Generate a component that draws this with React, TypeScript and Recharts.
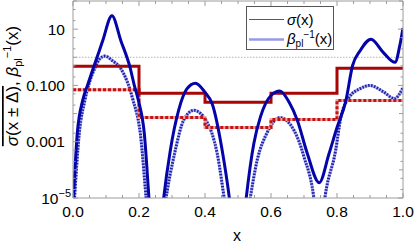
import React from "react";
import { LineChart, Line, XAxis, YAxis, ReferenceLine } from "recharts";

const W = 415;
const H = 247;
const FONT = '"Liberation Sans", Arial, sans-serif';
const FRAME = "#9c9c9c";

// sigma(x) local curve (solid blue)
const sigmaX = [0, 0.013, 0.0295, 0.045, 0.062, 0.075, 0.09, 0.118, 0.145, 0.173, 0.185, 0.198, 0.216, 0.232, 0.252, 0.272, 0.295, 0.32, 0.345, 0.371, 0.4, 0.422, 0.452, 0.477, 0.5, 0.522, 0.548, 0.568, 0.6, 0.627, 0.655, 0.68, 0.71, 0.746, 0.776, 0.8, 0.827, 0.847, 0.87, 0.903, 0.94, 0.976, 0.99, 1.0];
const sigmaY = [5e-6, 0.002, 0.03, 0.11, 0.43, 1.17, 3.9, 30, 3.9, 0.43, 0.11, 0.03, 0.002, 5e-6, 1e-8, 5e-6, 5e-4, 0.013, 0.075, 0.12, 0.057, 0.022, 5e-4, 5e-6, 1e-8, 5e-6, 8.7e-4, 0.0076, 0.044, 0.063, 0.025, 0.0057, 3.8e-4, 3.5e-5, 3.8e-4, 0.0032, 0.029, 0.5, 1.7, 4.4, 1.5, 0.66, 2.5, 11];

// beta_pl^-1(x) (dotted blue)
const betaX = [0.003, 0.019, 0.036, 0.05, 0.067, 0.08, 0.097, 0.12, 0.143, 0.165, 0.182, 0.204, 0.224, 0.25, 0.278, 0.31, 0.335, 0.366, 0.406, 0.437, 0.462, 0.5, 0.533, 0.558, 0.589, 0.627, 0.67, 0.7, 0.733, 0.746, 0.76, 0.796, 0.812, 0.837, 0.87, 0.9, 0.94, 0.974, 1.0];
const betaY = [5e-6, 0.002, 0.03, 0.13, 0.43, 0.85, 1.1, 0.75, 0.43, 0.13, 0.03, 0.002, 5e-6, 1e-8, 5e-6, 5e-4, 0.0057, 0.013, 0.005, 3.8e-4, 5e-6, 1e-8, 5e-6, 2.2e-4, 0.0022, 0.0072, 0.0025, 2.9e-4, 5e-6, 1e-7, 5e-6, 5e-4, 0.0076, 0.038, 0.077, 0.1, 0.06, 0.034, 0.083];

// bin averages over [x - Δ, x + Δ] (steps)
const binEdges = [0, 0.2, 0.4, 0.6, 0.8, 1.0];
const binSigma = [0.48, 0.053, 0.025, 0.053, 0.41, 0.41];
const binBeta = [0.07, 0.0072, 0.0032, 0.0061, 0.029, 0.029];

const unitLevel = 1;

const xTicks = [0, 0.05, 0.1, 0.15, 0.2, 0.25, 0.3, 0.35, 0.4, 0.45, 0.5, 0.55, 0.6, 0.65, 0.7, 0.75, 0.8, 0.85, 0.9, 0.95, 1];
const xLabels = ["0.0", "0.2", "0.4", "0.6", "0.8", "1.0"];
const yTicks = [1e-5, 2e-5, 5e-5, 1e-4, 2e-4, 5e-4, 1e-3, 2e-3, 5e-3, 0.01, 0.02, 0.05, 0.1, 0.2, 0.5, 1, 2, 5, 10, 20, 50, 100];
const yLabelVals = [1e-5, 0.001, 0.1, 10];
const yLabels = ["10", "0.001", "0.100", "10"];

const sigmaData = sigmaX.map((x, i) => ({ x, y: sigmaY[i] }));
const betaData = betaX.map((x, i) => ({ x, y: betaY[i] }));
const binSigmaData = binEdges.map((x, i) => ({ x, y: binSigma[i] }));
const binBetaData = binEdges.map((x, i) => ({ x, y: binBeta[i] }));

const near = (a: number, b: number) => Math.abs(a - b) < 1e-9 * Math.max(1, Math.abs(b));
const xLabelOf = (v: number) => {
  const k = Math.round(v * 5);
  return near(v, k / 5) ? xLabels[k] : null;
};
const isDecade = (v: number) => near(Math.log10(v), Math.round(Math.log10(v)));

const BottomTick = (p: any) => {
  const { x, y, payload } = p;
  const lab = xLabelOf(payload.value);
  return (
    <g>
      <line x1={x} x2={x} y1={y} y2={y - (lab ? 5 : 3)} stroke={FRAME} />
      {lab && (
        <text x={x} y={y + 19} textAnchor="middle" fontSize={15.5} fontFamily={FONT} fill="#000">
          {lab}
        </text>
      )}
    </g>
  );
};

const TopTick = (p: any) => {
  const { x, y, payload } = p;
  const lab = xLabelOf(payload.value);
  return <line x1={x} x2={x} y1={y} y2={y + (lab ? 5 : 3)} stroke={FRAME} />;
};

const LeftTick = (p: any) => {
  const { x, y, payload } = p;
  const v = payload.value;
  const li = yLabelVals.findIndex((l) => near(v, l));
  const len = li >= 0 ? 5 : isDecade(v) ? 4 : 2.5;
  return (
    <g>
      <line x1={x} x2={x + len} y1={y} y2={y} stroke={FRAME} />
      {li === 0 && (
        <text x={x - 2} y={y + 6} textAnchor="end" fontSize={15.5} fontFamily={FONT} fill="#000">
          <tspan>10</tspan>
          <tspan fontSize={11} dy={-7}>−5</tspan>
        </text>
      )}
      {li > 0 && (
        <text x={x - 8} y={y + 5.5} textAnchor="end" fontSize={15.5} fontFamily={FONT} fill="#000">
          {yLabels[li]}
        </text>
      )}
    </g>
  );
};

const RightTick = (p: any) => {
  const { x, y, payload } = p;
  const v = payload.value;
  const li = yLabelVals.findIndex((l) => near(v, l));
  const len = li >= 0 ? 5 : isDecade(v) ? 4 : 2.5;
  return <line x1={x} x2={x - len} y1={y} y2={y} stroke={FRAME} />;
};

export default function App() {
  return (
    <div style={{ position: "absolute", left: 0, top: 0, width: W, height: H, background: "#fff" }}>
      <LineChart width={W} height={H} margin={{ top: 0, right: 0, bottom: 0, left: 0 }}>
        <XAxis
          dataKey="x"
          type="number"
          domain={[0, 1]}
          ticks={xTicks}
          interval={0}
          allowDataOverflow
          height={49}
          tickLine={false}
          tickSize={0}
          tickMargin={0}
          tick={BottomTick}
          axisLine={{ stroke: FRAME }}
        />
        <XAxis
          xAxisId="top"
          orientation="top"
          dataKey="x"
          type="number"
          domain={[0, 1]}
          ticks={xTicks}
          interval={0}
          allowDataOverflow
          height={1}
          tickLine={false}
          tickSize={0}
          tickMargin={0}
          tick={TopTick}
          axisLine={{ stroke: FRAME }}
        />
        <YAxis
          yAxisId="l"
          type="number"
          scale="log"
          domain={[1e-5, 100]}
          ticks={yTicks}
          interval={0}
          allowDataOverflow
          width={73}
          tickLine={false}
          tickSize={0}
          tickMargin={0}
          tick={LeftTick}
          axisLine={{ stroke: FRAME }}
        />
        <YAxis
          yAxisId="r"
          orientation="right"
          type="number"
          scale="log"
          domain={[1e-5, 100]}
          ticks={yTicks}
          interval={0}
          allowDataOverflow
          width={12}
          tickLine={false}
          tickSize={0}
          tickMargin={0}
          tick={RightTick}
          axisLine={{ stroke: FRAME }}
        />
        <ReferenceLine yAxisId="l" y={unitLevel} stroke="#b4b4b4" strokeDasharray="1.5 1.5" />
        <Line data={betaData} yAxisId="l" dataKey="y" name="betaBase" type="monotone" stroke="#a9aeee" strokeWidth={3} dot={false} isAnimationActive={false} />
        <Line data={betaData} yAxisId="l" dataKey="y" name="beta" type="monotone" stroke="#2020a6" strokeWidth={3} strokeDasharray="1.5 1.5" dot={false} isAnimationActive={false} />
        <Line data={binBetaData} yAxisId="l" dataKey="y" name="binBetaBase" type="stepAfter" stroke="#eca4a4" strokeWidth={3} dot={false} isAnimationActive={false} />
        <Line data={binBetaData} yAxisId="l" dataKey="y" name="binBeta" type="stepAfter" stroke="#c41212" strokeWidth={3} strokeDasharray="3 2" dot={false} isAnimationActive={false} />
        <Line data={binSigmaData} yAxisId="l" dataKey="y" name="binSigma" type="stepAfter" stroke="#a80606" strokeWidth={3} dot={false} isAnimationActive={false} />
        <Line data={sigmaData} yAxisId="l" dataKey="y" name="sigma" type="monotone" stroke="#0404a8" strokeWidth={3} dot={false} isAnimationActive={false} />
      </LineChart>
      <svg width={W} height={H} style={{ position: "absolute", left: 0, top: 0, pointerEvents: "none" }}>
        <text transform="translate(18,86) rotate(-90)" textAnchor="middle" fontSize={17} fontFamily={FONT} fill="#000">
          <tspan style={{ textDecoration: "overline" }}>
            <tspan fontStyle="italic">σ</tspan>(x ± Δ)
          </tspan>
          <tspan>, </tspan>
          <tspan fontStyle="italic">β</tspan>
          <tspan fontSize={11} dy={4}>pl</tspan>
          <tspan fontSize={11} dy={-11}>−1</tspan>
          <tspan dy={7}>(x)</tspan>
        </text>
        <text x={237} y={241} textAnchor="middle" fontSize={16} fontFamily={FONT} fill="#000">
          x
        </text>
        <rect x={246.5} y={6.5} width={87} height={43} fill="#fff" stroke="#555" />
        <line x1={249} x2={284} y1={19.5} y2={19.5} stroke="#b03434" strokeWidth={1.2} />
        <text x={287} y={25} fontSize={15} fontFamily={FONT} fill="#000">
          <tspan fontStyle="italic">σ</tspan>(x)
        </text>
        <line x1={249} x2={284} y1={39.5} y2={39.5} stroke="#9898e6" strokeWidth={2.5} />
        <text x={287} y={44} fontSize={15} fontFamily={FONT} fill="#000">
          <tspan fontStyle="italic">β</tspan>
          <tspan fontSize={10} dy={3}>pl</tspan>
          <tspan fontSize={10} dy={-9}>−1</tspan>
          <tspan dy={6}>(x)</tspan>
        </text>
      </svg>
    </div>
  );
}
